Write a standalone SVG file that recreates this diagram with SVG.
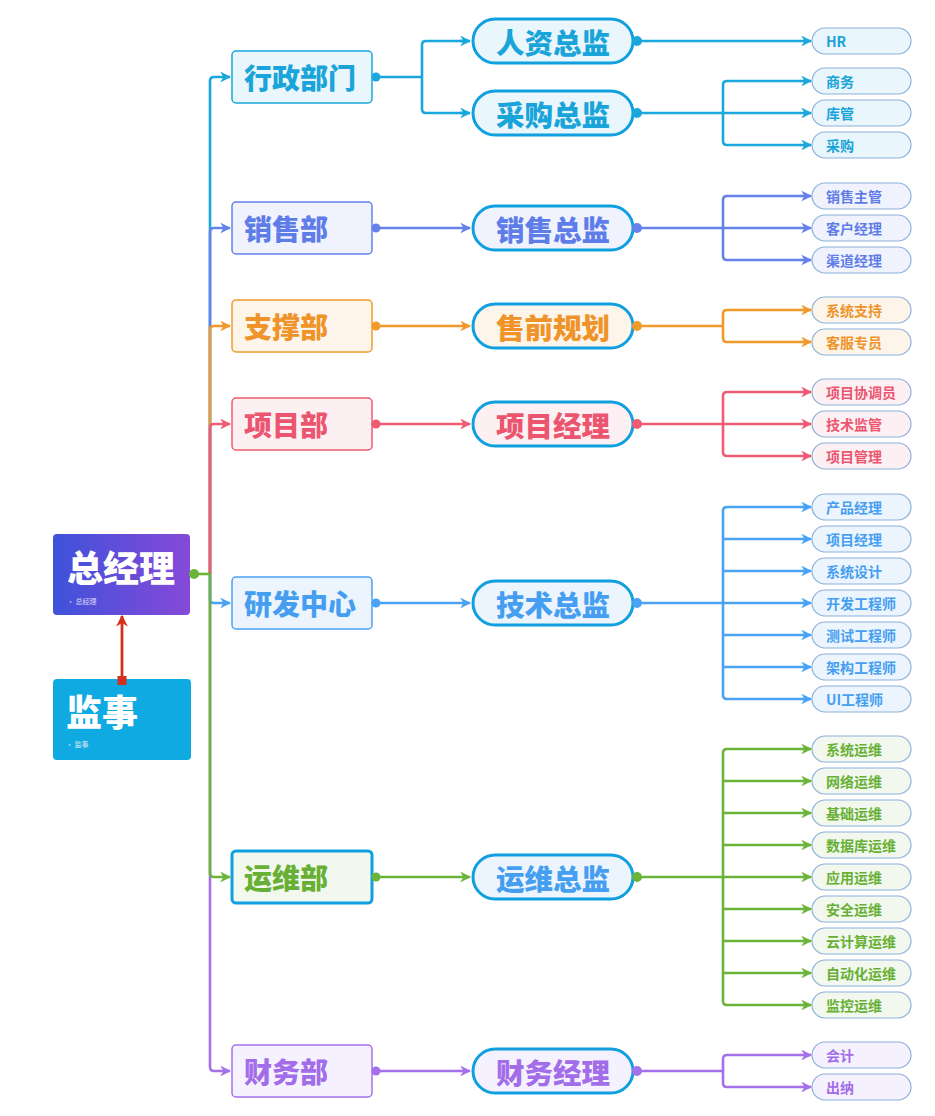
<svg xmlns="http://www.w3.org/2000/svg" width="935" height="1116" viewBox="0 0 935 1116">
<defs>
<linearGradient id="gRoot" x1="0" y1="0" x2="1" y2="0">
<stop offset="0" stop-color="#3f52da"/><stop offset="1" stop-color="#8649d8"/>
</linearGradient>
<marker id="aC" viewBox="0 0 10 10" refX="9" refY="5" markerWidth="4.2" markerHeight="4.2" orient="auto" markerUnits="strokeWidth"><path d="M0,0 L10,5 L0,10 L3,5 Z" fill="#19a7dc"/></marker>
<marker id="aS" viewBox="0 0 10 10" refX="9" refY="5" markerWidth="4.2" markerHeight="4.2" orient="auto" markerUnits="strokeWidth"><path d="M0,0 L10,5 L0,10 L3,5 Z" fill="#6482ea"/></marker>
<marker id="aO" viewBox="0 0 10 10" refX="9" refY="5" markerWidth="4.2" markerHeight="4.2" orient="auto" markerUnits="strokeWidth"><path d="M0,0 L10,5 L0,10 L3,5 Z" fill="#f09a2c"/></marker>
<marker id="aP" viewBox="0 0 10 10" refX="9" refY="5" markerWidth="4.2" markerHeight="4.2" orient="auto" markerUnits="strokeWidth"><path d="M0,0 L10,5 L0,10 L3,5 Z" fill="#ee5b73"/></marker>
<marker id="aB" viewBox="0 0 10 10" refX="9" refY="5" markerWidth="4.2" markerHeight="4.2" orient="auto" markerUnits="strokeWidth"><path d="M0,0 L10,5 L0,10 L3,5 Z" fill="#4aa2f2"/></marker>
<marker id="aG" viewBox="0 0 10 10" refX="9" refY="5" markerWidth="4.2" markerHeight="4.2" orient="auto" markerUnits="strokeWidth"><path d="M0,0 L10,5 L0,10 L3,5 Z" fill="#6ab43a"/></marker>
<marker id="aV" viewBox="0 0 10 10" refX="9" refY="5" markerWidth="4.2" markerHeight="4.2" orient="auto" markerUnits="strokeWidth"><path d="M0,0 L10,5 L0,10 L3,5 Z" fill="#a571ea"/></marker>
<marker id="aR" viewBox="0 0 10 10" refX="9" refY="5" markerWidth="4.2" markerHeight="4.2" orient="auto" markerUnits="strokeWidth"><path d="M0,0 L10,5 L0,10 L3,5 Z" fill="#d3301e"/></marker>
</defs>
<style>
text{font-family:"Noto Sans CJK SC","Noto Sans",sans-serif;font-weight:bold;dominant-baseline:central}
.big{font-weight:900}
.ln{fill:none;stroke-width:2.6;stroke-linejoin:round;stroke-linecap:butt}
.dept{stroke-width:1.5}
.dt{font-size:28px;font-weight:900}
.mid{stroke:#10a0e0;stroke-width:3}
.mt{font-size:28.5px;text-anchor:middle;font-weight:900}
.leaf{stroke:#8cb2dc;stroke-width:1.2}
.lt{font-size:14px}
.C{stroke:#19a7dc}.S{stroke:#6482ea}.O{stroke:#f09a2c}.P{stroke:#ee5b73}.B{stroke:#4aa2f2}.G{stroke:#6ab43a}.V{stroke:#a571ea}
.tC{fill:#19a4da}.tS{fill:#5f7de8}.tO{fill:#ee942a}.tP{fill:#ec5570}.tB{fill:#459ef0}.tG{fill:#67b035}.tV{fill:#a26de8}
.fC{fill:#e9f6fc}.fS{fill:#f0f3fe}.fO{fill:#fdf4ea}.fP{fill:#fdf0f2}.fB{fill:#ecf5fe}.fG{fill:#f2f8ee}.fV{fill:#f6f1fe}
</style>

<!-- root nodes -->
<g id="root">
<rect x="53" y="534" width="137" height="81" rx="4" fill="url(#gRoot)"/>
<text class="big" x="121" y="566" font-size="36" fill="#ffffff" text-anchor="middle">总经理</text>
<text x="67" y="601" font-size="7" fill="#b9b2f0">•  总经理</text>
</g>
<g id="supervisor">
<rect x="53" y="679" width="138" height="81" rx="4" fill="#0faae1"/>
<text class="big" x="66" y="710" font-size="36" fill="#ffffff">监事</text>
<text x="66" y="744" font-size="7" fill="#a8daf2">•  监事</text>
</g>

<!-- departments -->
<g id="d-xingzheng"><rect class="dept fC C" x="232" y="51" width="140" height="52" rx="4"/><text class="dt tC" x="244" y="77">行政部门</text></g>
<g id="d-xiaoshou"><rect class="dept fS S" x="232" y="202" width="140" height="52" rx="4"/><text class="dt tS" x="244" y="228">销售部</text></g>
<g id="d-zhicheng"><rect class="dept fO O" x="232" y="300" width="140" height="52" rx="4"/><text class="dt tO" x="244" y="326">支撑部</text></g>
<g id="d-xiangmu"><rect class="dept fP P" x="232" y="398" width="140" height="52" rx="4"/><text class="dt tP" x="244" y="424">项目部</text></g>
<g id="d-yanfa"><rect class="dept fB B" x="232" y="577" width="140" height="52" rx="4"/><text class="dt tB" x="244" y="603">研发中心</text></g>
<g id="d-yunwei"><rect class="fG" x="232" y="851" width="140" height="52" rx="4" stroke="#0ea0e0" stroke-width="3"/><text class="dt tG" x="244" y="877">运维部</text></g>
<g id="d-caiwu"><rect class="dept fV V" x="232" y="1045" width="140" height="52" rx="4"/><text class="dt tV" x="244" y="1071">财务部</text></g>

<!-- middle nodes -->
<g id="m-renzi"><rect class="mid fC" x="473" y="19" width="160" height="44" rx="22"/><text class="mt tC" x="553" y="41">人资总监</text></g>
<g id="m-caigou"><rect class="mid fC" x="473" y="91" width="160" height="44" rx="22"/><text class="mt tC" x="553" y="113">采购总监</text></g>
<g id="m-xiaoshou"><rect class="mid fS" x="473" y="206" width="160" height="44" rx="22"/><text class="mt tS" x="553" y="228">销售总监</text></g>
<g id="m-shouqian"><rect class="mid fO" x="473" y="304" width="160" height="44" rx="22"/><text class="mt tO" x="553" y="326">售前规划</text></g>
<g id="m-xiangmu"><rect class="mid fP" x="473" y="402" width="160" height="44" rx="22"/><text class="mt tP" x="553" y="424">项目经理</text></g>
<g id="m-jishu"><rect class="mid fB" x="473" y="581" width="160" height="44" rx="22"/><text class="mt tB" x="553" y="603">技术总监</text></g>
<g id="m-yunwei"><rect class="mid fB" x="473" y="855" width="160" height="44" rx="22"/><text class="mt tB" x="553" y="877">运维总监</text></g>
<g id="m-caiwu"><rect class="mid fV" x="473" y="1049" width="160" height="44" rx="22"/><text class="mt tV" x="553" y="1071">财务经理</text></g>

<!-- leaves -->
<g id="l-hr"><rect class="leaf fC" x="812" y="28" width="99" height="26" rx="13"/><text class="lt tC" x="826" y="41">HR</text></g>
<g id="l-shangwu"><rect class="leaf fC" x="812" y="68" width="99" height="26" rx="13"/><text class="lt tC" x="826" y="81">商务</text></g>
<g id="l-kuguan"><rect class="leaf fC" x="812" y="100" width="99" height="26" rx="13"/><text class="lt tC" x="826" y="113">库管</text></g>
<g id="l-caigou"><rect class="leaf fC" x="812" y="132" width="99" height="26" rx="13"/><text class="lt tC" x="826" y="145">采购</text></g>

<g id="l-xszg"><rect class="leaf fS" x="812" y="183" width="99" height="26" rx="13"/><text class="lt tS" x="826" y="196">销售主管</text></g>
<g id="l-khjl"><rect class="leaf fS" x="812" y="215" width="99" height="26" rx="13"/><text class="lt tS" x="826" y="228">客户经理</text></g>
<g id="l-qdjl"><rect class="leaf fS" x="812" y="247" width="99" height="26" rx="13"/><text class="lt tS" x="826" y="260">渠道经理</text></g>

<g id="l-xtzc"><rect class="leaf fO" x="812" y="297" width="99" height="26" rx="13"/><text class="lt tO" x="826" y="310">系统支持</text></g>
<g id="l-kfzy"><rect class="leaf fO" x="812" y="329" width="99" height="26" rx="13"/><text class="lt tO" x="826" y="342">客服专员</text></g>

<g id="l-xmxty"><rect class="leaf fP" x="812" y="379" width="99" height="26" rx="13"/><text class="lt tP" x="826" y="392">项目协调员</text></g>
<g id="l-jsjg"><rect class="leaf fP" x="812" y="411" width="99" height="26" rx="13"/><text class="lt tP" x="826" y="424">技术监管</text></g>
<g id="l-xmgl"><rect class="leaf fP" x="812" y="443" width="99" height="26" rx="13"/><text class="lt tP" x="826" y="456">项目管理</text></g>

<g id="l-cpjl"><rect class="leaf fB" x="812" y="494" width="99" height="26" rx="13"/><text class="lt tB" x="826" y="507">产品经理</text></g>
<g id="l-xmjl"><rect class="leaf fB" x="812" y="526" width="99" height="26" rx="13"/><text class="lt tB" x="826" y="539">项目经理</text></g>
<g id="l-xtsj"><rect class="leaf fB" x="812" y="558" width="99" height="26" rx="13"/><text class="lt tB" x="826" y="571">系统设计</text></g>
<g id="l-kfgcs"><rect class="leaf fB" x="812" y="590" width="99" height="26" rx="13"/><text class="lt tB" x="826" y="603">开发工程师</text></g>
<g id="l-csgcs"><rect class="leaf fB" x="812" y="622" width="99" height="26" rx="13"/><text class="lt tB" x="826" y="635">测试工程师</text></g>
<g id="l-jggcs"><rect class="leaf fB" x="812" y="654" width="99" height="26" rx="13"/><text class="lt tB" x="826" y="667">架构工程师</text></g>
<g id="l-uigcs"><rect class="leaf fB" x="812" y="686" width="99" height="26" rx="13"/><text class="lt tB" x="826" y="699">UI工程师</text></g>

<g id="l-xtyw"><rect class="leaf fG" x="812" y="736" width="99" height="26" rx="13"/><text class="lt tG" x="826" y="749">系统运维</text></g>
<g id="l-wlyw"><rect class="leaf fG" x="812" y="768" width="99" height="26" rx="13"/><text class="lt tG" x="826" y="781">网络运维</text></g>
<g id="l-jcyw"><rect class="leaf fG" x="812" y="800" width="99" height="26" rx="13"/><text class="lt tG" x="826" y="813">基础运维</text></g>
<g id="l-sjkyw"><rect class="leaf fG" x="812" y="832" width="99" height="26" rx="13"/><text class="lt tG" x="826" y="845">数据库运维</text></g>
<g id="l-yyyw"><rect class="leaf fG" x="812" y="864" width="99" height="26" rx="13"/><text class="lt tG" x="826" y="877">应用运维</text></g>
<g id="l-aqyw"><rect class="leaf fG" x="812" y="896" width="99" height="26" rx="13"/><text class="lt tG" x="826" y="909">安全运维</text></g>
<g id="l-yjsyw"><rect class="leaf fG" x="812" y="928" width="99" height="26" rx="13"/><text class="lt tG" x="826" y="941">云计算运维</text></g>
<g id="l-zdhyw"><rect class="leaf fG" x="812" y="960" width="99" height="26" rx="13"/><text class="lt tG" x="826" y="973">自动化运维</text></g>
<g id="l-jkyw"><rect class="leaf fG" x="812" y="992" width="99" height="26" rx="13"/><text class="lt tG" x="826" y="1005">监控运维</text></g>

<g id="l-kuaiji"><rect class="leaf fV" x="812" y="1042" width="99" height="26" rx="13"/><text class="lt tV" x="826" y="1055">会计</text></g>
<g id="l-chuna"><rect class="leaf fV" x="812" y="1074" width="99" height="26" rx="13"/><text class="lt tV" x="826" y="1087">出纳</text></g>

<g id="connectors">
<!-- root trunk -->
<path class="ln C" d="M210,574 V81 Q210,77 214,77 H230" marker-end="url(#aC)"/>
<path class="ln S" d="M210,574 V232 Q210,228 214,228 H230" marker-end="url(#aS)"/>
<path class="ln O" d="M210,574 V330 Q210,326 214,326 H230" marker-end="url(#aO)"/>
<path class="ln P" d="M210,574 V428 Q210,424 214,424 H230" marker-end="url(#aP)"/>
<path class="ln V" d="M210,574 V1067 Q210,1071 214,1071 H230" marker-end="url(#aV)"/>
<path class="ln B" d="M210,574 V599 Q210,603 214,603 H230" marker-end="url(#aB)"/>
<path class="ln G" d="M210,574 V873 Q210,877 214,877 H230" marker-end="url(#aG)"/>
<path class="ln G" d="M194,574 H211"/>
<circle cx="194" cy="574" r="5" fill="#6ab43a"/>
<!-- supervisor -->
<path d="M122,680 V616" stroke="#d3301e" stroke-width="2.8" fill="none" marker-end="url(#aR)"/>
<rect x="117.5" y="676" width="9" height="9" fill="#d3301e"/>

<!-- dept -> mid -->
<circle cx="376" cy="77" r="4.5" fill="#19a7dc"/>
<path class="ln C" d="M376,77 H422"/>
<path class="ln C" d="M468,41 H426 Q422,41 422,45 V109 Q422,113 426,113 H468" />
<path class="ln C" d="M460,41 H470" marker-end="url(#aC)"/>
<path class="ln C" d="M460,113 H470" marker-end="url(#aC)"/>
<circle cx="376" cy="228" r="4.5" fill="#6482ea"/>
<path class="ln S" d="M376,228 H470" marker-end="url(#aS)"/>
<circle cx="376" cy="326" r="4.5" fill="#f09a2c"/>
<path class="ln O" d="M376,326 H470" marker-end="url(#aO)"/>
<circle cx="376" cy="424" r="4.5" fill="#ee5b73"/>
<path class="ln P" d="M376,424 H470" marker-end="url(#aP)"/>
<circle cx="376" cy="603" r="4.5" fill="#4aa2f2"/>
<path class="ln B" d="M376,603 H470" marker-end="url(#aB)"/>
<circle cx="376" cy="877" r="4.5" fill="#6ab43a"/>
<path class="ln G" d="M376,877 H470" marker-end="url(#aG)"/>
<circle cx="376" cy="1071" r="4.5" fill="#a571ea"/>
<path class="ln V" d="M376,1071 H470" marker-end="url(#aV)"/>

<!-- mid -> leaves -->
<circle cx="637" cy="41" r="5" fill="#19a7dc"/>
<path class="ln C" d="M637,41 H811" marker-end="url(#aC)"/>

<circle cx="637" cy="113" r="5" fill="#19a7dc"/>
<path class="ln C" d="M637,113 H723"/>
<path class="ln C" d="M800,81 H727 Q723,81 723,85 V141 Q723,145 727,145 H800"/>
<path class="ln C" d="M800,81 H811" marker-end="url(#aC)"/>
<path class="ln C" d="M723,113 H811" marker-end="url(#aC)"/>
<path class="ln C" d="M800,145 H811" marker-end="url(#aC)"/>

<circle cx="637" cy="228" r="5" fill="#6482ea"/>
<path class="ln S" d="M637,228 H723"/>
<path class="ln S" d="M800,196 H727 Q723,196 723,200 V256 Q723,260 727,260 H800"/>
<path class="ln S" d="M800,196 H811" marker-end="url(#aS)"/>
<path class="ln S" d="M723,228 H811" marker-end="url(#aS)"/>
<path class="ln S" d="M800,260 H811" marker-end="url(#aS)"/>

<circle cx="637" cy="326" r="5" fill="#f09a2c"/>
<path class="ln O" d="M637,326 H723"/>
<path class="ln O" d="M800,310 H727 Q723,310 723,314 V338 Q723,342 727,342 H800"/>
<path class="ln O" d="M800,310 H811" marker-end="url(#aO)"/>
<path class="ln O" d="M800,342 H811" marker-end="url(#aO)"/>

<circle cx="637" cy="424" r="5" fill="#ee5b73"/>
<path class="ln P" d="M637,424 H723"/>
<path class="ln P" d="M800,392 H727 Q723,392 723,396 V452 Q723,456 727,456 H800"/>
<path class="ln P" d="M800,392 H811" marker-end="url(#aP)"/>
<path class="ln P" d="M723,424 H811" marker-end="url(#aP)"/>
<path class="ln P" d="M800,456 H811" marker-end="url(#aP)"/>

<circle cx="637" cy="603" r="5" fill="#4aa2f2"/>
<path class="ln B" d="M637,603 H723"/>
<path class="ln B" d="M800,507 H727 Q723,507 723,511 V695 Q723,699 727,699 H800"/>
<path class="ln B" d="M800,507 H811" marker-end="url(#aB)"/>
<path class="ln B" d="M723,539 H811" marker-end="url(#aB)"/>
<path class="ln B" d="M723,571 H811" marker-end="url(#aB)"/>
<path class="ln B" d="M723,603 H811" marker-end="url(#aB)"/>
<path class="ln B" d="M723,635 H811" marker-end="url(#aB)"/>
<path class="ln B" d="M723,667 H811" marker-end="url(#aB)"/>
<path class="ln B" d="M800,699 H811" marker-end="url(#aB)"/>

<circle cx="637" cy="877" r="5" fill="#6ab43a"/>
<path class="ln G" d="M637,877 H723"/>
<path class="ln G" d="M800,749 H727 Q723,749 723,753 V1001 Q723,1005 727,1005 H800"/>
<path class="ln G" d="M800,749 H811" marker-end="url(#aG)"/>
<path class="ln G" d="M723,781 H811" marker-end="url(#aG)"/>
<path class="ln G" d="M723,813 H811" marker-end="url(#aG)"/>
<path class="ln G" d="M723,845 H811" marker-end="url(#aG)"/>
<path class="ln G" d="M723,877 H811" marker-end="url(#aG)"/>
<path class="ln G" d="M723,909 H811" marker-end="url(#aG)"/>
<path class="ln G" d="M723,941 H811" marker-end="url(#aG)"/>
<path class="ln G" d="M723,973 H811" marker-end="url(#aG)"/>
<path class="ln G" d="M800,1005 H811" marker-end="url(#aG)"/>

<circle cx="637" cy="1071" r="5" fill="#a571ea"/>
<path class="ln V" d="M637,1071 H723"/>
<path class="ln V" d="M800,1055 H727 Q723,1055 723,1059 V1083 Q723,1087 727,1087 H800"/>
<path class="ln V" d="M800,1055 H811" marker-end="url(#aV)"/>
<path class="ln V" d="M800,1087 H811" marker-end="url(#aV)"/>
</g>
</svg>
